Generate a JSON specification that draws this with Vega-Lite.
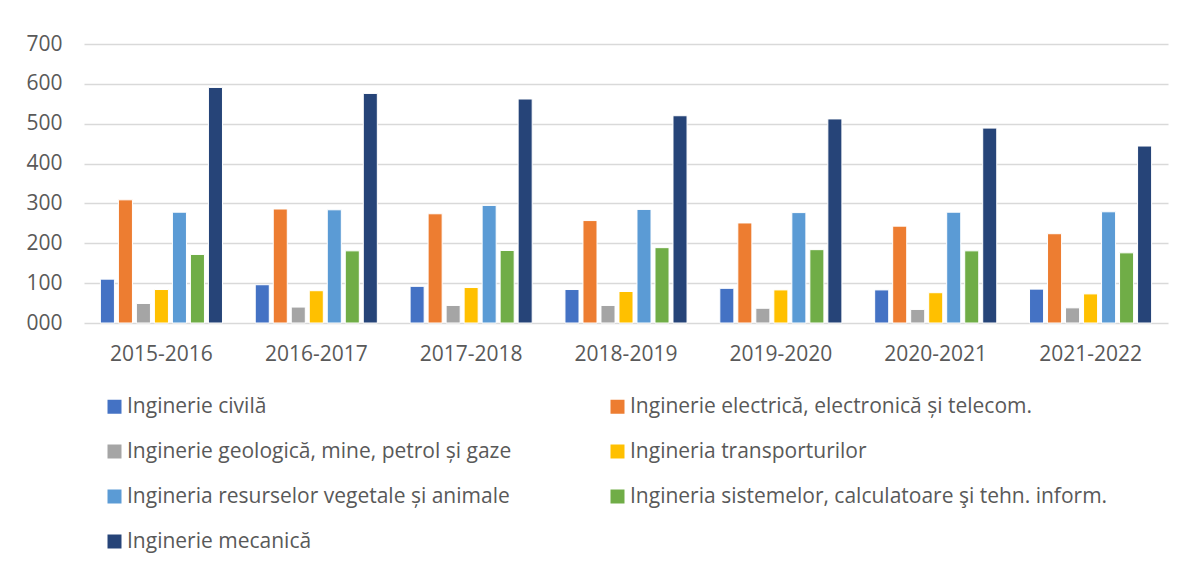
{
  "$schema": "https://vega.github.io/schema/vega-lite/v6.json",
  "width": 1084,
  "height": 279,
  "autosize": "none",
  "padding": {"left": 84, "top": 44, "right": 17, "bottom": 245},
  "background": "white",
  "data": {
    "values": [
      {"an": "2015-2016", "domeniu": "Inginerie civilă", "valoare": 110},
      {"an": "2015-2016", "domeniu": "Inginerie electrică, electronică și telecom.", "valoare": 309},
      {"an": "2015-2016", "domeniu": "Inginerie geologică, mine, petrol și gaze", "valoare": 49},
      {"an": "2015-2016", "domeniu": "Ingineria transporturilor", "valoare": 84},
      {"an": "2015-2016", "domeniu": "Ingineria resurselor vegetale și animale", "valoare": 278},
      {"an": "2015-2016", "domeniu": "Ingineria sistemelor, calculatoare şi tehn. inform.", "valoare": 172},
      {"an": "2015-2016", "domeniu": "Inginerie mecanică", "valoare": 591},
      {"an": "2016-2017", "domeniu": "Inginerie civilă", "valoare": 96},
      {"an": "2016-2017", "domeniu": "Inginerie electrică, electronică și telecom.", "valoare": 286},
      {"an": "2016-2017", "domeniu": "Inginerie geologică, mine, petrol și gaze", "valoare": 40},
      {"an": "2016-2017", "domeniu": "Ingineria transporturilor", "valoare": 81},
      {"an": "2016-2017", "domeniu": "Ingineria resurselor vegetale și animale", "valoare": 284},
      {"an": "2016-2017", "domeniu": "Ingineria sistemelor, calculatoare şi tehn. inform.", "valoare": 181},
      {"an": "2016-2017", "domeniu": "Inginerie mecanică", "valoare": 576},
      {"an": "2017-2018", "domeniu": "Inginerie civilă", "valoare": 92},
      {"an": "2017-2018", "domeniu": "Inginerie electrică, electronică și telecom.", "valoare": 274},
      {"an": "2017-2018", "domeniu": "Inginerie geologică, mine, petrol și gaze", "valoare": 44},
      {"an": "2017-2018", "domeniu": "Ingineria transporturilor", "valoare": 89},
      {"an": "2017-2018", "domeniu": "Ingineria resurselor vegetale și animale", "valoare": 295},
      {"an": "2017-2018", "domeniu": "Ingineria sistemelor, calculatoare şi tehn. inform.", "valoare": 182},
      {"an": "2017-2018", "domeniu": "Inginerie mecanică", "valoare": 562},
      {"an": "2018-2019", "domeniu": "Inginerie civilă", "valoare": 84},
      {"an": "2018-2019", "domeniu": "Inginerie electrică, electronică și telecom.", "valoare": 257},
      {"an": "2018-2019", "domeniu": "Inginerie geologică, mine, petrol și gaze", "valoare": 44},
      {"an": "2018-2019", "domeniu": "Ingineria transporturilor", "valoare": 79},
      {"an": "2018-2019", "domeniu": "Ingineria resurselor vegetale și animale", "valoare": 285},
      {"an": "2018-2019", "domeniu": "Ingineria sistemelor, calculatoare şi tehn. inform.", "valoare": 189},
      {"an": "2018-2019", "domeniu": "Inginerie mecanică", "valoare": 520},
      {"an": "2019-2020", "domeniu": "Inginerie civilă", "valoare": 87},
      {"an": "2019-2020", "domeniu": "Inginerie electrică, electronică și telecom.", "valoare": 251},
      {"an": "2019-2020", "domeniu": "Inginerie geologică, mine, petrol și gaze", "valoare": 37},
      {"an": "2019-2020", "domeniu": "Ingineria transporturilor", "valoare": 83},
      {"an": "2019-2020", "domeniu": "Ingineria resurselor vegetale și animale", "valoare": 277},
      {"an": "2019-2020", "domeniu": "Ingineria sistemelor, calculatoare şi tehn. inform.", "valoare": 184},
      {"an": "2019-2020", "domeniu": "Inginerie mecanică", "valoare": 512},
      {"an": "2020-2021", "domeniu": "Inginerie civilă", "valoare": 83},
      {"an": "2020-2021", "domeniu": "Inginerie electrică, electronică și telecom.", "valoare": 243},
      {"an": "2020-2021", "domeniu": "Inginerie geologică, mine, petrol și gaze", "valoare": 34},
      {"an": "2020-2021", "domeniu": "Ingineria transporturilor", "valoare": 76},
      {"an": "2020-2021", "domeniu": "Ingineria resurselor vegetale și animale", "valoare": 278},
      {"an": "2020-2021", "domeniu": "Ingineria sistemelor, calculatoare şi tehn. inform.", "valoare": 181},
      {"an": "2020-2021", "domeniu": "Inginerie mecanică", "valoare": 489},
      {"an": "2021-2022", "domeniu": "Inginerie civilă", "valoare": 85},
      {"an": "2021-2022", "domeniu": "Inginerie electrică, electronică și telecom.", "valoare": 224},
      {"an": "2021-2022", "domeniu": "Inginerie geologică, mine, petrol și gaze", "valoare": 38},
      {"an": "2021-2022", "domeniu": "Ingineria transporturilor", "valoare": 73},
      {"an": "2021-2022", "domeniu": "Ingineria resurselor vegetale și animale", "valoare": 279},
      {"an": "2021-2022", "domeniu": "Ingineria sistemelor, calculatoare şi tehn. inform.", "valoare": 176},
      {"an": "2021-2022", "domeniu": "Inginerie mecanică", "valoare": 444}
    ]
  },
  "mark": {"type": "bar", "stroke": "white", "strokeWidth": 1},
  "encoding": {
    "x": {
      "field": "an", "type": "nominal",
      "scale": {"paddingInner": 0.2, "paddingOuter": 0.1},
      "axis": {"title": null, "labelAngle": 0, "ticks": false, "domain": false, "labelPadding": 20, "labelFontSize": 21, "labelColor": "#595959"}
    },
    "xOffset": {
      "field": "domeniu", "type": "nominal",
      "scale": {"domain": ["Inginerie civilă", "Inginerie electrică, electronică și telecom.", "Inginerie geologică, mine, petrol și gaze", "Ingineria transporturilor", "Ingineria resurselor vegetale și animale", "Ingineria sistemelor, calculatoare şi tehn. inform.", "Inginerie mecanică"], "paddingInner": 0.22, "paddingOuter": 0.05}
    },
    "y": {
      "field": "valoare", "type": "quantitative",
      "scale": {"domain": [0, 700], "nice": false},
      "axis": {"title": null, "values": [0, 100, 200, 300, 400, 500, 600, 700], "format": "03d", "ticks": false, "domain": false, "labelPadding": 22, "labelFontSize": 21, "labelColor": "#595959", "gridColor": "#d9d9d9", "gridWidth": 1.5}
    },
    "color": {
      "field": "domeniu", "type": "nominal",
      "scale": {
        "domain": ["Inginerie civilă", "Inginerie electrică, electronică și telecom.", "Inginerie geologică, mine, petrol și gaze", "Ingineria transporturilor", "Ingineria resurselor vegetale și animale", "Ingineria sistemelor, calculatoare şi tehn. inform.", "Inginerie mecanică"],
        "range": ["#4472C4", "#ED7D31", "#A5A5A5", "#FFC000", "#5B9BD5", "#70AD47", "#264478"]
      },
      "legend": {
        "title": null, "orient": "none", "direction": "horizontal", "legendX": 20, "legendY": 352, "columns": 2,
        "columnPadding": 95, "rowPadding": 23, "symbolType": "square", "symbolSize": 196,
        "symbolStrokeWidth": 0, "labelFontSize": 21, "labelColor": "#595959", "labelOffset": 2, "labelLimit": 700
      }
    }
  },
  "config": {
    "font": "Open Sans",
    "view": {"stroke": null}
  }
}
